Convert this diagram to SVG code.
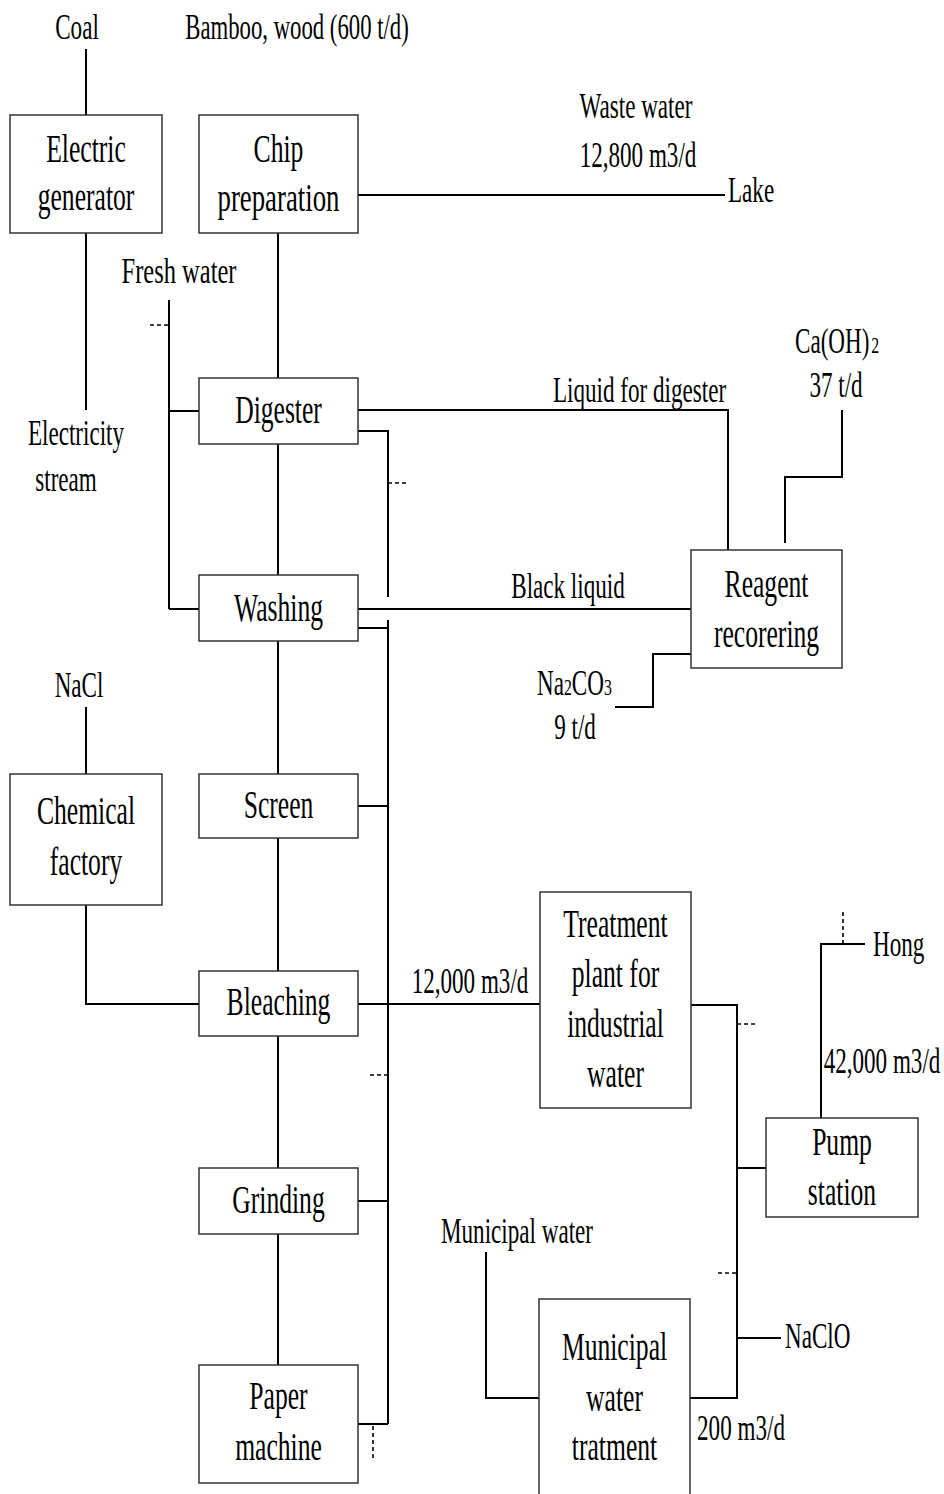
<svg xmlns="http://www.w3.org/2000/svg" width="944" height="1494" viewBox="0 0 944 1494">
<style>
  .box{fill:#fff;stroke:#333;stroke-width:1.5}
  .ln{fill:none;stroke:#000;stroke-width:2}
  .ds{fill:none;stroke:#000;stroke-width:1.6;stroke-dasharray:4,3}
  text{font-family:"Liberation Serif","Times New Roman",serif;fill:#000}
  .b{font-size:40px;text-anchor:middle}
  .l{font-size:35px;text-anchor:middle}
  .ls{font-size:35px;text-anchor:start}
  .sub{font-size:24px}
</style>
<rect width="944" height="1494" fill="#fff"/>

<g id="connectors">
  <path class="ln" d="M86,49V115"/>
  <path class="ln" d="M86,233V410"/>
  <path class="ln" d="M358,195H725"/>
  <path class="ln" d="M278,233V378M278,444V575M278,641V774M278,838V971M278,1036V1168M278,1234V1365"/>
  <path class="ln" d="M169,300V609M169,411H199M169,609H199"/>
  <path class="ds" d="M150,325H169"/>
  <path class="ln" d="M358,410H728V550"/>
  <path class="ln" d="M358,431H388V597"/>
  <path class="ds" d="M388,483H407"/>
  <path class="ln" d="M358,609H691"/>
  <path class="ln" d="M358,628H388M388,620V1424M358,806H388M358,1201H388M358,1424H388"/>
  <path class="ln" d="M358,1004H540"/>
  <path class="ds" d="M370,1075H387"/>
  <path class="ds" d="M373,1426V1460"/>
  <path class="ln" d="M86,707V774"/>
  <path class="ln" d="M86,905V1004H199"/>
  <path class="ln" d="M842,410V477H785V543"/>
  <path class="ln" d="M691,654H653V707H615"/>
  <path class="ln" d="M691,1005H737V1398H690"/>
  <path class="ds" d="M737,1024H756"/>
  <path class="ds" d="M718,1273H737"/>
  <path class="ln" d="M737,1168H766"/>
  <path class="ln" d="M821,1118V944H865"/>
  <path class="ds" d="M843,912V944"/>
  <path class="ln" d="M737,1338H781"/>
  <path class="ln" d="M486,1252V1398H539"/>
</g>

<g id="electric-generator">
  <rect class="box" x="10" y="115" width="152" height="118"/>
  <text class="b" transform="translate(86,162) scale(0.64,1)">Electric</text>
  <text class="b" transform="translate(86,210) scale(0.64,1)">generator</text>
</g>
<g id="chip-preparation">
  <rect class="box" x="199" y="115" width="159" height="118"/>
  <text class="b" transform="translate(278.5,162) scale(0.64,1)">Chip</text>
  <text class="b" transform="translate(278.5,211) scale(0.67,1)">preparation</text>
</g>
<g id="digester">
  <rect class="box" x="199" y="378" width="159" height="66"/>
  <text class="b" transform="translate(278.5,423) scale(0.64,1)">Digester</text>
</g>
<g id="washing">
  <rect class="box" x="199" y="575" width="159" height="66"/>
  <text class="b" transform="translate(278.5,621) scale(0.64,1)">Washing</text>
</g>
<g id="screen">
  <rect class="box" x="199" y="774" width="159" height="64"/>
  <text class="b" transform="translate(278.5,818) scale(0.64,1)">Screen</text>
</g>
<g id="bleaching">
  <rect class="box" x="199" y="971" width="159" height="65"/>
  <text class="b" transform="translate(278.5,1015) scale(0.64,1)">Bleaching</text>
</g>
<g id="grinding">
  <rect class="box" x="199" y="1168" width="159" height="66"/>
  <text class="b" transform="translate(278.5,1213) scale(0.64,1)">Grinding</text>
</g>
<g id="paper-machine">
  <rect class="box" x="199" y="1365" width="159" height="118"/>
  <text class="b" transform="translate(278.5,1409) scale(0.64,1)">Paper</text>
  <text class="b" transform="translate(278.5,1460) scale(0.64,1)">machine</text>
</g>
<g id="chemical-factory">
  <rect class="box" x="10" y="774" width="152" height="131"/>
  <text class="b" transform="translate(86,824) scale(0.64,1)">Chemical</text>
  <text class="b" transform="translate(86,875) scale(0.64,1)">factory</text>
</g>
<g id="reagent-recorering">
  <rect class="box" x="691" y="550" width="151" height="118"/>
  <text class="b" transform="translate(766.5,597) scale(0.64,1)">Reagent</text>
  <text class="b" transform="translate(766.5,647) scale(0.64,1)">recorering</text>
</g>
<g id="treatment-plant">
  <rect class="box" x="540" y="892" width="151" height="216"/>
  <text class="b" transform="translate(615.5,937) scale(0.64,1)">Treatment</text>
  <text class="b" transform="translate(615.5,987) scale(0.64,1)">plant for</text>
  <text class="b" transform="translate(615.5,1037) scale(0.64,1)">industrial</text>
  <text class="b" transform="translate(615.5,1087) scale(0.64,1)">water</text>
</g>
<g id="pump-station">
  <rect class="box" x="766" y="1118" width="152" height="99"/>
  <text class="b" transform="translate(842,1155) scale(0.64,1)">Pump</text>
  <text class="b" transform="translate(842,1205) scale(0.64,1)">station</text>
</g>
<g id="municipal-water-treatment">
  <rect class="box" x="539" y="1299" width="151" height="220"/>
  <text class="b" transform="translate(614.5,1360) scale(0.64,1)">Municipal</text>
  <text class="b" transform="translate(614.5,1411) scale(0.64,1)">water</text>
  <text class="b" transform="translate(614.5,1460) scale(0.64,1)">tratment</text>
</g>

<g id="labels">
  <text class="l" transform="translate(77,39) scale(0.66,1)">Coal</text>
  <text class="l" transform="translate(297,39) scale(0.65,1)">Bamboo, wood (600 t/d)</text>
  <text class="l" transform="translate(636,118) scale(0.66,1)">Waste water</text>
  <text class="l" transform="translate(638,167) scale(0.66,1)">12,800 m3/d</text>
  <text class="ls" transform="translate(728,202) scale(0.66,1)">Lake</text>
  <text class="l" transform="translate(179,283) scale(0.7,1)">Fresh water</text>
  <text class="l" transform="translate(76,445) scale(0.66,1)">Electricity</text>
  <text class="l" transform="translate(66,491) scale(0.66,1)">stream</text>
  <text class="l" transform="translate(639.5,402) scale(0.66,1)">Liquid for digester</text>
  <text class="ls" transform="translate(795,353) scale(0.66,1)">Ca(OH)<tspan class="sub" dx="3">2</tspan></text>
  <text class="l" transform="translate(836,397) scale(0.66,1)">37 t/d</text>
  <text class="l" transform="translate(568,598) scale(0.66,1)">Black liquid</text>
  <text class="ls" transform="translate(537,695) scale(0.66,1)">Na<tspan class="sub">2</tspan>CO<tspan class="sub">3</tspan></text>
  <text class="l" transform="translate(575,739) scale(0.66,1)">9 t/d</text>
  <text class="l" transform="translate(79,697) scale(0.66,1)">NaCl</text>
  <text class="l" transform="translate(470,993) scale(0.66,1)">12,000 m3/d</text>
  <text class="ls" transform="translate(873,956) scale(0.66,1)">Hong</text>
  <text class="l" transform="translate(882,1073) scale(0.66,1)">42,000 m3/d</text>
  <text class="l" transform="translate(517,1243) scale(0.66,1)">Municipal water</text>
  <text class="ls" transform="translate(785,1348) scale(0.66,1)">NaClO</text>
  <text class="l" transform="translate(741,1440) scale(0.66,1)">200 m3/d</text>
</g>
</svg>
